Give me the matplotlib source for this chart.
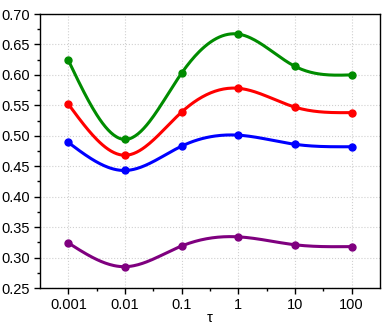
#!/usr/bin/env python3
"""tau 에 따른 4개 계열 곡선 (스플라인 보간)"""
import numpy as np
import matplotlib
matplotlib.use("Agg")
import matplotlib.pyplot as plt

plt.rcParams["font.family"] = ["Liberation Sans", "DejaVu Sans"]

tau_labels = ["0.001", "0.01", "0.1", "1", "10", "100"]
green = [0.624, 0.494, 0.603, 0.667, 0.614, 0.600]
red = [0.552, 0.468, 0.539, 0.578, 0.547, 0.538]
blue = [0.489, 0.443, 0.483, 0.501, 0.486, 0.482]
purple = [0.324, 0.285, 0.319, 0.334, 0.321, 0.318]


def natural_spline(x, y, n=200):
    """자연 3차 스플라인 (그리기용)"""
    x = np.asarray(x, float)
    y = np.asarray(y, float)
    k = len(x)
    h = np.diff(x)
    A = np.zeros((k, k))
    b = np.zeros(k)
    A[0, 0] = A[-1, -1] = 1
    for i in range(1, k - 1):
        A[i, i - 1] = h[i - 1]
        A[i, i] = 2 * (h[i - 1] + h[i])
        A[i, i + 1] = h[i]
        b[i] = 6 * ((y[i + 1] - y[i]) / h[i] - (y[i] - y[i - 1]) / h[i - 1])
    M = np.linalg.solve(A, b)
    xs = np.linspace(x[0], x[-1], n)
    idx = np.clip(np.searchsorted(x, xs) - 1, 0, k - 2)
    x0, x1 = x[idx], x[idx + 1]
    hh = x1 - x0
    t0, t1 = x1 - xs, xs - x0
    ys = (M[idx] * t0**3 + M[idx + 1] * t1**3) / (6 * hh) \
        + (y[idx] / hh - M[idx] * hh / 6) * t0 \
        + (y[idx + 1] / hh - M[idx + 1] * hh / 6) * t1
    return xs, ys


fig = plt.figure(figsize=(3.82, 3.29), dpi=100)
ax = fig.add_axes([40 / 382, 1 - 288 / 329, 340 / 382, 274 / 329])

x = np.arange(len(tau_labels))
for vals, col in [(green, "#008c00"), (red, "#ff0000"),
                  (blue, "#0000ff"), (purple, "#7f007f")]:
    xs, ys = natural_spline(x, vals)
    ax.plot(xs, ys, color=col, lw=2.2, zorder=3)
    ax.plot(x, vals, "o", color=col, ms=5, zorder=4)

ax.set_xlim(-0.5, 5.5)
ax.set_ylim(0.25, 0.70)
ax.set_xticks(x)
ax.set_xticklabels(tau_labels)
ax.set_xticks(x[:-1] + 0.5, minor=True)
ax.set_yticks(np.arange(0.25, 0.701, 0.05))
ax.set_yticks(np.arange(0.275, 0.70, 0.05), minor=True)
ax.yaxis.set_major_formatter(matplotlib.ticker.FormatStrFormatter("%.2f"))
ax.tick_params(axis="both", which="major", direction="out", length=4,
               width=1, labelsize=10.5, colors="black")
ax.tick_params(axis="both", which="minor", direction="out", length=2.5, width=1)
ax.grid(True, which="major", color="#d0d0d0", ls=":", lw=0.8)
ax.set_axisbelow(True)
for sp in ax.spines.values():
    sp.set_linewidth(1.0)
ax.set_xlabel("τ", fontsize=10.5)
ax.xaxis.set_label_coords(0.5, -(318 - 288) / 274)
ax.xaxis.label.set_verticalalignment("center")

fig.savefig("out.png", dpi=100, facecolor="white")
